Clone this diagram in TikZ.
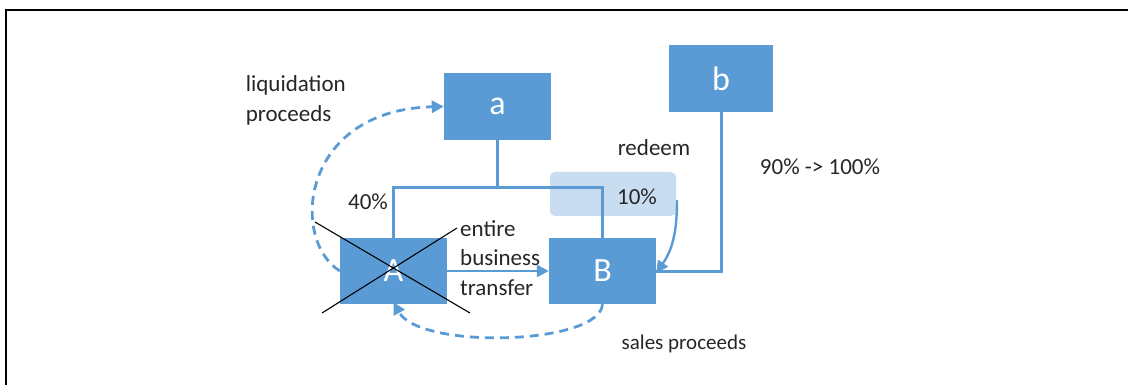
\documentclass[tikz,border=0pt]{standalone}
\usepackage{fontspec}
\setmainfont{Carlito}
\usetikzlibrary{arrows.meta,calc}
\definecolor{boxblue}{HTML}{5B9BD5}
\definecolor{paleblue}{HTML}{C9DDF1}
\begin{document}
\begin{tikzpicture}[x=1pt,y=-1pt,
  box/.style={draw=none,fill=boxblue,text=white,font=\fontsize{34}{38}\selectfont,
    minimum width=107pt,minimum height=67pt,inner sep=0pt},
  lbl/.style={font=\fontsize{23}{29.5}\selectfont,inner sep=0pt,text=black!85},
  link/.style={draw=boxblue,line width=3pt},
  flow/.style={draw=boxblue,line width=2.4pt,-{Triangle[length=12pt,width=12pt]}},
  dashflow/.style={draw=boxblue,line width=2.8pt,dash pattern=on 9pt off 6pt,
    -{Triangle[length=12pt,width=12pt]}},
  cross/.style={draw=black,line width=1.1pt}]
\useasboundingbox (0,0) rectangle (1128,385);
% page frame
\draw[line width=2.5pt] (1128,10) -- (6,10) -- (6,386);

% highlight behind the 10% share
\node[fill=paleblue,rounded corners=5pt,minimum width=126pt,minimum height=44pt,inner sep=0pt] (pct) at (613,194) {};

% companies
\node[box] (a) at (497.5,106.5) {a};
\node[box,minimum width=104pt] (b) at (721,78.5) {b};
\node[box,minimum height=66pt] (A) at (393.5,271) {A};
\node[box,minimum height=66pt] (B) at (602.5,271) {B};

% ownership tree of a
\coordinate (j) at (497.5,188);
\draw[link] (a.south) -- (j);
\draw[link] (A.north) |- (j) -| (B.north);

% b holds B
\draw[link] (b.south) |- (B.east);

% redemption of the 10% share
\coordinate (r0) at (677,200);
\draw[flow] (r0) to[out=-90,in=55] ([yshift=-2pt]B.east);

% business transfer A -> B
\draw[flow] (A.east) -- (B.west);

% A is dissolved
\coordinate (c1) at (315,222);
\coordinate (c2) at (470,313);
\coordinate (c3) at (457,228);
\coordinate (c4) at (322,313);
\draw[cross] (c1) -- (c2);
\draw[cross] (c3) -- (c4);

% cash flows
\draw[dashflow] (A.west) .. controls (290,240) and (300,110) .. (a.west);
\draw[dashflow] (B.south) .. controls (600,345) and (420,350) .. ([yshift=2pt]A.south);

% labels
\node[lbl,anchor=east,align=left,font=\fontsize{23}{30}\selectfont] (lq) at (346,100) {liquidation\\proceeds};
\node[lbl] (rd) at (654,148) {redeem};
\node[lbl] (p40) at (368,202) {40\%};
\node[lbl] (p10) at (637,197) {10\%};
\node[lbl] (p90) at (820,167) {90\% -> 100\%};
\node[lbl,anchor=west,align=left] (ebt) at (460,258) {entire\\business\\transfer};
\node[lbl,font=\fontsize{21}{25}\selectfont] (sp) at (684,344) {sales proceeds};
\end{tikzpicture}
\end{document}
